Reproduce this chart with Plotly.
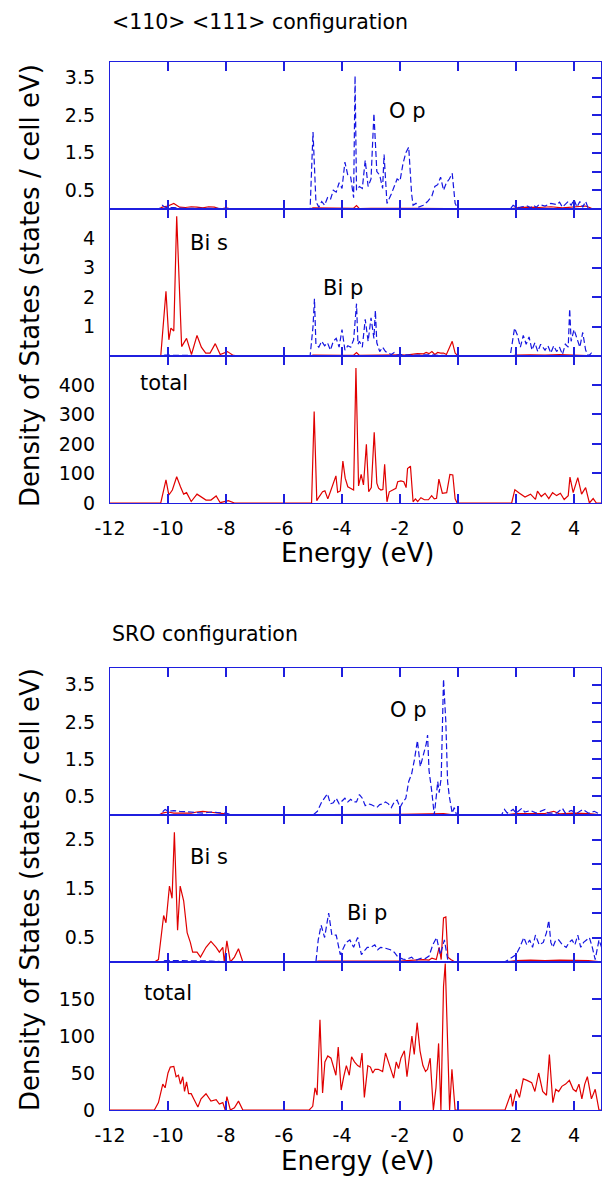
import plotly.graph_objects as go

# ---------------- data (energy eV, DOS) ----------------
# <110> <111> configuration
top_os = [(-12, 0), (-10.3, 0), (-10.2, 0.05), (-10.0, 0.08), (-9.8, 0.15), (-9.6, 0.05), (-9.4, 0.04), (-9.2, 0.06),
          (-9.0, 0.05), (-8.8, 0.03), (-8.6, 0.06), (-8.4, 0.05), (-8.2, 0.0), (-8.0, 0.03), (-7.8, 0), (-5.1, 0),
          (-5.0, 0.03), (-4.5, 0.02), (-4.0, 0.03), (-3.6, 0.02), (-3.5, 0.09), (-3.4, 0.01), (-3.0, 0.02), (-2.5, 0.03),
          (-2.0, 0.02), (-1.5, 0.02), (-1.0, 0.02), (-0.5, 0.02), (-0.1, 0), (1.8, 0), (2.0, 0.03), (2.4, 0.05),
          (2.8, 0.04), (3.2, 0.06), (3.6, 0.03), (4.0, 0.05), (4.4, 0.08), (4.6, 0.02), (4.95, 0)]
top_op = [(-12, 0), (-10.3, 0), (-10.2, 0.1), (-10.1, 0.05), (-10.0, 0.03), (-9.8, 0.04), (-9.5, 0.02), (-9.0, 0.02),
          (-8.5, 0.02), (-8.0, 0.01), (-7.8, 0), (-5.1, 0), (-5.0, 2.05), (-4.9, 0.2), (-4.8, 0.05), (-4.7, 0.2),
          (-4.6, 0.1), (-4.5, 0.3), (-4.4, 0.25), (-4.3, 0.5), (-4.2, 0.45), (-4.1, 0.7), (-4.0, 0.55), (-3.9, 1.25),
          (-3.8, 0.9), (-3.7, 0.85), (-3.6, 0.3), (-3.55, 3.55), (-3.5, 0.5), (-3.4, 0.6), (-3.3, 0.55), (-3.2, 1.3),
          (-3.1, 0.6), (-3.0, 0.8), (-2.9, 2.55), (-2.8, 1.0), (-2.7, 0.9), (-2.6, 0.55), (-2.55, 1.45), (-2.45, 0.15),
          (-2.3, 0.4), (-2.2, 0.6), (-2.1, 0.8), (-2.0, 0.75), (-1.9, 1.2), (-1.8, 1.5), (-1.7, 1.65), (-1.6, 0.4),
          (-1.55, 0.1), (-1.45, 0.15), (-1.35, 0.05), (-1.2, 0.1), (-1.05, 0.2), (-0.9, 0.35), (-0.8, 0.6),
          (-0.7, 0.65), (-0.6, 0.85), (-0.5, 0.5), (-0.4, 0.7), (-0.3, 0.8), (-0.2, 0.95), (-0.1, 0.15), (0.0, 0),
          (1.8, 0), (1.9, 0.1), (2.0, 0.05), (2.1, 0.04), (2.2, 0.06), (2.4, 0.08), (2.5, 0.03), (2.6, 0.1),
          (2.7, 0.05), (2.8, 0.12), (3.0, 0.08), (3.2, 0.15), (3.4, 0.12), (3.5, 0.18), (3.6, 0.05), (3.8, 0.2),
          (3.9, 0.1), (4.0, 0.25), (4.1, 0.05), (4.2, 0.2), (4.3, 0.05), (4.4, 0.2), (4.5, 0.0), (4.95, 0)]
top_bis = [(-12, 0), (-10.25, 0), (-10.07, 2.2), (-9.97, 0.55), (-9.9, 0.95), (-9.8, 0.85), (-9.7, 4.75),
           (-9.53, 0.32), (-9.36, 0.6), (-9.19, 0.05), (-9.0, 0.7), (-8.85, 0.3), (-8.7, 0.1), (-8.55, 0.1),
           (-8.37, 0.42), (-8.2, 0.05), (-7.95, 0.15), (-7.75, 0.02), (-7.5, 0), (-5.1, 0), (-5.0, 0.03),
           (-4.5, 0.02), (-4.0, 0.02), (-3.6, 0.03), (-3.5, 0.12), (-3.4, 0.02), (-3.0, 0.03), (-2.5, 0.02),
           (-2.0, 0.04), (-1.8, 0.03), (-1.6, 0.06), (-1.4, 0.08), (-1.2, 0.07), (-1.1, 0.12), (-1.0, 0.08),
           (-0.9, 0.15), (-0.8, 0.05), (-0.7, 0.12), (-0.6, 0.1), (-0.5, 0.1), (-0.4, 0.05), (-0.3, 0.3),
           (-0.2, 0.5), (-0.1, 0.1), (0.0, 0), (1.8, 0), (2.0, 0.03), (2.5, 0.04), (3.0, 0.03), (3.5, 0.05),
           (4.0, 0.04), (4.5, 0.02), (4.95, 0)]
top_bip = [(-12, 0), (-10.3, 0), (-10.1, 0.03), (-9.5, 0.02), (-8.5, 0.02), (-8.0, 0), (-5.1, 0), (-5.0, 1.0),
           (-4.95, 1.95), (-4.9, 0.4), (-4.8, 0.3), (-4.7, 0.5), (-4.6, 0.35), (-4.5, 0.45), (-4.4, 0.2),
           (-4.3, 0.5), (-4.2, 0.6), (-4.1, 0.3), (-4.0, 0.9), (-3.9, 0.2), (-3.8, 0.35), (-3.7, 0.3), (-3.6, 0.55),
           (-3.5, 1.78), (-3.45, 0.4), (-3.4, 0.5), (-3.3, 0.3), (-3.2, 1.25), (-3.1, 0.5), (-3.0, 1.3), (-2.9, 0.6),
           (-2.85, 1.55), (-2.8, 0.45), (-2.7, 0.15), (-2.6, 0.3), (-2.5, 0.15), (-2.4, 0.1), (-2.3, 0.05),
           (-2.2, 0.12), (-2.1, 0.03), (-2.0, 0.05), (-1.5, 0.03), (-1.0, 0.04), (-0.5, 0.03), (-0.1, 0), (1.8, 0),
           (1.9, 0.6), (1.95, 0.95), (2.05, 0.7), (2.15, 0.3), (2.25, 0.7), (2.35, 0.4), (2.45, 0.65), (2.55, 0.2),
           (2.65, 0.45), (2.75, 0.15), (2.85, 0.4), (3.0, 0.2), (3.1, 0.35), (3.2, 0.1), (3.3, 0.35), (3.4, 0.15),
           (3.5, 0.3), (3.6, 0.05), (3.7, 0.4), (3.8, 0.3), (3.85, 1.6), (3.9, 0.5), (4.0, 0.9), (4.1, 0.6),
           (4.2, 0.3), (4.3, 0.8), (4.4, 0.2), (4.5, 0.0), (4.6, 0.1), (4.7, 0.0), (4.95, 0)]
top_tot = [(-12, 0), (-10.25, 0), (-10.07, 78), (-9.97, 27), (-9.85, 44), (-9.7, 89), (-9.57, 55), (-9.46, 30),
           (-9.36, 35), (-9.2, 5), (-9.0, 30), (-8.84, 21), (-8.69, 10), (-8.52, 10), (-8.34, 24), (-8.2, 1),
           (-7.92, 8), (-7.71, 0), (-5.05, 0), (-4.96, 310), (-4.87, 8), (-4.79, 21), (-4.67, 38), (-4.59, 41),
           (-4.49, 14), (-4.38, 44), (-4.26, 78), (-4.21, 92), (-4.15, 36), (-4.06, 41), (-3.97, 142), (-3.89, 84),
           (-3.8, 55), (-3.69, 50), (-3.6, 44), (-3.52, 457), (-3.43, 58), (-3.34, 97), (-3.26, 61), (-3.16, 199),
           (-3.08, 38), (-2.99, 52), (-2.89, 240), (-2.8, 67), (-2.74, 50), (-2.66, 44), (-2.59, 46), (-2.53, 131),
           (-2.45, 4), (-2.37, 38), (-2.25, 44), (-2.14, 50), (-2.08, 72), (-1.97, 75), (-1.87, 72), (-1.79, 52),
           (-1.74, 117), (-1.64, 125), (-1.55, 4), (-1.47, 14), (-1.39, 5), (-1.28, 18), (-1.16, 11), (-1.02, 11),
           (-0.91, 25), (-0.82, 14), (-0.74, 16), (-0.66, 81), (-0.54, 33), (-0.39, 35), (-0.28, 97), (-0.18, 95),
           (-0.1, 14), (-0.03, 0), (1.85, 0), (1.96, 45), (2.12, 33), (2.31, 20), (2.5, 30), (2.67, 12), (2.74, 40),
           (2.87, 22), (3.0, 33), (3.13, 15), (3.26, 35), (3.4, 25), (3.53, 33), (3.66, 12), (3.8, 25), (3.86, 88),
           (3.97, 35), (4.13, 86), (4.26, 30), (4.4, 52), (4.53, 0), (4.66, 15), (4.77, 0), (4.95, 0)]

# SRO configuration
bot_os = [(-12, 0), (-10.3, 0), (-10.2, 0.05), (-10.0, 0.08), (-9.8, 0.05), (-9.5, 0.06), (-9.2, 0.05), (-9.0, 0.08),
          (-8.8, 0.1), (-8.6, 0.08), (-8.3, 0.06), (-8.0, 0.03), (-7.8, 0), (-5.0, 0), (-4.5, 0.02), (-4.0, 0.02),
          (-3.0, 0.02), (-2.0, 0.02), (-1.0, 0.03), (-0.5, 0.04), (-0.1, 0), (1.6, 0), (2.0, 0.04), (2.5, 0.05),
          (3.0, 0.04), (3.3, 0.1), (3.5, 0.03), (4.0, 0.05), (4.5, 0.04), (4.95, 0)]
bot_op = [(-12, 0), (-10.3, 0), (-10.1, 0.15), (-10.0, 0.1), (-9.8, 0.12), (-9.6, 0.1), (-9.2, 0.08), (-8.8, 0.05),
          (-8.5, 0.08), (-8.0, 0.05), (-7.8, 0), (-5.0, 0), (-4.85, 0.1), (-4.7, 0.35), (-4.5, 0.57), (-4.4, 0.3),
          (-4.3, 0.33), (-4.2, 0.45), (-4.1, 0.3), (-4.0, 0.38), (-3.9, 0.45), (-3.8, 0.35), (-3.7, 0.42),
          (-3.6, 0.35), (-3.5, 0.35), (-3.4, 0.55), (-3.3, 0.45), (-3.2, 0.25), (-3.1, 0.3), (-3.0, 0.28),
          (-2.9, 0.25), (-2.8, 0.2), (-2.7, 0.28), (-2.6, 0.3), (-2.5, 0.35), (-2.4, 0.3), (-2.3, 0.2), (-2.2, 0.35),
          (-2.1, 0.4), (-2.0, 0.2), (-1.9, 0.35), (-1.8, 0.45), (-1.7, 0.9), (-1.6, 1.1), (-1.5, 1.5), (-1.4, 2.0),
          (-1.3, 1.3), (-1.2, 1.6), (-1.1, 1.9), (-1.05, 2.15), (-1.0, 1.2), (-0.9, 0.6), (-0.82, 0.0), (-0.75, 0.5),
          (-0.7, 0.9), (-0.65, 0.6), (-0.58, 1.0), (-0.5, 3.65), (-0.42, 2.5), (-0.36, 0.9), (-0.3, 0.5),
          (-0.2, 0.05), (-0.13, 0.2), (-0.05, 0), (1.5, 0), (1.6, 0.15), (1.7, 0.05), (1.9, 0.15), (2.0, 0.05),
          (2.2, 0.18), (2.3, 0.08), (2.5, 0.12), (2.7, 0.05), (3.0, 0.15), (3.1, 0.05), (3.4, 0.05), (3.6, 0.18),
          (3.7, 0.05), (3.9, 0.12), (4.1, 0.05), (4.3, 0.15), (4.5, 0.05), (4.7, 0.1), (4.9, 0.02), (4.95, 0)]
bot_bis = [(-12, 0), (-10.47, 0), (-10.33, 0.05), (-10.15, 0.95), (-10.07, 0.8), (-9.95, 1.55), (-9.86, 1.3),
           (-9.78, 2.65), (-9.67, 0.65), (-9.58, 1.55), (-9.46, 1.25), (-9.34, 0.6), (-9.23, 0.4), (-9.15, 0.2),
           (-9.0, 0.2), (-8.88, 0.1), (-8.69, 0.3), (-8.52, 0.42), (-8.34, 0.3), (-8.23, 0.2), (-8.11, 0.3),
           (-8.06, 0.0), (-7.97, 0.43), (-7.85, 0.0), (-7.71, 0.1), (-7.57, 0.27), (-7.42, 0.0), (-5.0, 0),
           (-4.8, 0.02), (-4.0, 0.02), (-3.5, 0.03), (-3.0, 0.02), (-2.5, 0.03), (-2.0, 0.02), (-1.5, 0.04),
           (-1.2, 0.05), (-1.0, 0.04), (-0.9, 0.08), (-0.75, 0.05), (-0.65, 0.3), (-0.58, 0.05), (-0.5, 0.9),
           (-0.42, 0.92), (-0.35, 0.1), (-0.25, 0.05), (-0.1, 0), (1.6, 0), (2.0, 0.03), (2.5, 0.04), (3.0, 0.03),
           (3.5, 0.04), (4.0, 0.03), (4.5, 0.03), (4.95, 0)]
bot_bip = [(-12, 0), (-10.3, 0), (-10.1, 0.03), (-9.5, 0.03), (-8.5, 0.02), (-8.0, 0), (-4.9, 0), (-4.82, 0.45),
           (-4.72, 0.75), (-4.6, 0.5), (-4.46, 1.0), (-4.35, 0.55), (-4.2, 0.55), (-4.06, 0.15), (-3.95, 0.3),
           (-3.86, 0.4), (-3.73, 0.45), (-3.6, 0.3), (-3.46, 0.5), (-3.33, 0.15), (-3.2, 0.25), (-3.13, 0.3),
           (-3.0, 0.3), (-2.87, 0.35), (-2.77, 0.25), (-2.67, 0.3), (-2.5, 0.28), (-2.33, 0.25), (-2.2, 0.2),
           (-2.07, 0.1), (-1.9, 0.06), (-1.8, 0.05), (-1.6, 0.1), (-1.5, 0.04), (-1.4, 0.05), (-1.25, 0.08),
           (-1.13, 0.07), (-1.0, 0.12), (-0.87, 0.35), (-0.74, 0.5), (-0.61, 0.15), (-0.47, 0.45), (-0.34, 0.0),
           (1.6, 0), (1.75, 0.05), (1.87, 0.1), (2.0, 0.15), (2.13, 0.3), (2.27, 0.5), (2.37, 0.35), (2.47, 0.45),
           (2.57, 0.3), (2.67, 0.55), (2.8, 0.35), (2.94, 0.4), (3.05, 0.6), (3.13, 0.85), (3.2, 0.4), (3.27, 0.3),
           (3.37, 0.45), (3.47, 0.45), (3.6, 0.35), (3.73, 0.3), (3.83, 0.4), (3.93, 0.45), (4.03, 0.35),
           (4.13, 0.55), (4.23, 0.3), (4.33, 0.4), (4.43, 0.45), (4.53, 0.5), (4.63, 0.3), (4.73, 0.05),
           (4.86, 0.45), (4.95, 0.3)]
bot_tot = [(-12, 0), (-10.47, 0), (-10.33, 10), (-10.18, 35), (-10.1, 30), (-10.0, 50), (-9.92, 58), (-9.8, 59),
           (-9.72, 45), (-9.64, 47), (-9.57, 35), (-9.49, 45), (-9.43, 25), (-9.36, 38), (-9.29, 22), (-9.2, 22),
           (-9.11, 15), (-8.97, 4), (-8.86, 15), (-8.69, 22), (-8.52, 12), (-8.34, 14), (-8.23, 8), (-8.11, 10),
           (-8.03, 0), (-7.97, 18), (-7.85, 0), (-7.71, 3), (-7.57, 12), (-7.42, 0), (-5.13, 0), (-5.01, 5),
           (-4.93, 30), (-4.86, 20), (-4.76, 122), (-4.67, 23), (-4.59, 65), (-4.49, 73), (-4.38, 70), (-4.3, 58),
           (-4.21, 47), (-4.13, 85), (-4.03, 27), (-3.94, 45), (-3.85, 60), (-3.75, 47), (-3.67, 72), (-3.57, 65),
           (-3.46, 60), (-3.38, 58), (-3.31, 77), (-3.23, 17), (-3.11, 60), (-3.02, 58), (-2.94, 50), (-2.86, 55),
           (-2.75, 55), (-2.6, 52), (-2.5, 77), (-2.4, 65), (-2.31, 55), (-2.22, 43), (-2.13, 65), (-2.05, 56),
           (-1.97, 70), (-1.85, 80), (-1.76, 45), (-1.68, 75), (-1.59, 100), (-1.51, 75), (-1.41, 118), (-1.31, 80),
           (-1.21, 60), (-1.12, 52), (-1.05, 55), (-0.96, 70), (-0.85, 0), (-0.76, 30), (-0.67, 90), (-0.59, 0),
           (-0.5, 167), (-0.44, 198), (-0.36, 90), (-0.29, 0), (-0.21, 55), (-0.1, 0), (1.62, 0), (1.82, 22),
           (1.88, 5), (2.01, 28), (2.12, 17), (2.25, 42), (2.38, 40), (2.54, 37), (2.65, 25), (2.78, 50), (2.92, 25),
           (3.05, 20), (3.15, 75), (3.27, 10), (3.37, 28), (3.47, 25), (3.58, 32), (3.71, 35), (3.84, 40),
           (3.97, 28), (4.07, 25), (4.17, 35), (4.27, 15), (4.37, 35), (4.46, 45), (4.6, 15), (4.73, 28), (4.86, 0),
           (4.95, 0)]

x_ticks = [-12, -10, -8, -6, -4, -2, 0, 2, 4]
x_tick_labels = ["-12", "-10", "-8", "-6", "-4", "-2", "0", "2", "4"]
group_titles = ["<110> <111> configuration", "SRO configuration"]
x_title = "Energy (eV)"
y_title = "Density of States (states / cell eV)"

# ---------------- styling / layout ----------------
W, H = 602, 1178
PX_L, PX_R = 110, 601
X_RANGE = [-12, 4.93]
FONT = "DejaVu Sans"
RED = "#e00000"
BLUE = "#1515e0"
AX = "#1f1fdf"

# panel: (top px, bottom px, y range, labelled ticks, right-side ticks, [(series, color, dashed)], labels)
panels = [
    (62, 209, [0, 3.92], [0.5, 1.5, 2.5, 3.5], [0.5, 1, 1.5, 2, 2.5, 3, 3.5],
     [(top_os, RED, False), (top_op, BLUE, True)], [("O p", -2.45, 2.62)]),
    (209, 356, [0, 5], [1, 2, 3, 4], [1, 2, 3, 4],
     [(top_bis, RED, False), (top_bip, BLUE, True)], [("Bi s", -9.3, 3.86), ("Bi p", -4.72, 2.32)]),
    (356, 503, [0, 498], [0, 100, 200, 300, 400], [100, 200, 300, 400],
     [(top_tot, RED, False)], [("total", -11.05, 407)]),
    (668, 815, [0, 3.95], [0.5, 1.5, 2.5, 3.5], [0.5, 1, 1.5, 2, 2.5, 3, 3.5],
     [(bot_os, RED, False), (bot_op, BLUE, True)], [("O p", -2.4, 2.83)]),
    (815, 962, [0, 3], [0.5, 1.5, 2.5], [0.5, 1, 1.5, 2, 2.5],
     [(bot_bis, RED, False), (bot_bip, BLUE, True)], [("Bi s", -9.3, 2.15), ("Bi p", -3.9, 0.99)]),
    (962, 1110, [0, 200], [0, 50, 100, 150], [50, 100, 150],
     [(bot_tot, RED, False)], [("total", -10.9, 158)]),
]

fig = go.Figure()
layout = dict(width=W, height=H, margin=dict(l=0, r=0, t=0, b=0, autoexpand=False), showlegend=False,
              template="none",
              plot_bgcolor="white", paper_bgcolor="white", font=dict(family=FONT, color="black"))
annotations = []

for i, (pt, pb, yr, ylab, yright, series, labels) in enumerate(panels, start=1):
    xa, ya, yr_ax = f"x{i}", f"y{i}", f"y{i + 6}"
    for data, color, dashed in series:
        xs = [p[0] for p in data]
        ys = [p[1] for p in data]
        fig.add_trace(go.Scatter(x=xs, y=ys, mode="lines", xaxis=xa, yaxis=ya, hoverinfo="skip",
                                 line=dict(color=color, width=1.2, dash="6px,3px" if dashed else "solid")))
    fig.add_trace(go.Scatter(x=[], y=[], xaxis=xa, yaxis=yr_ax, hoverinfo="skip"))
    dom = [1 - pb / H, 1 - pt / H]
    bottom_panel = i in (3, 6)
    layout[f"xaxis{i}"] = dict(domain=[PX_L / W, PX_R / W], range=X_RANGE, anchor=ya, automargin=False,
                               tickvals=x_ticks, ticktext=x_tick_labels,
                               ticks="inside", ticklen=9, tickwidth=1.5, tickcolor=AX,
                               showline=True, linecolor=AX, linewidth=1.3, mirror="ticks",
                               showgrid=False, zeroline=False, showticklabels=bottom_panel,
                               tickfont=dict(family=FONT, size=19, color="black"), ticklabelstandoff=8)
    layout[f"yaxis{i}"] = dict(domain=dom, range=yr, anchor=xa, tickvals=ylab, ticks="", automargin=False,
                               ticktext=[f"{v:g}" for v in ylab],
                               showline=True, linecolor=AX, linewidth=1.3, mirror=True,
                               showgrid=False, zeroline=False,
                               tickfont=dict(family=FONT, size=19, color="black"), ticklabelstandoff=10)
    layout[f"yaxis{i + 6}"] = dict(domain=dom, range=yr, anchor=xa, overlaying=ya, side="right", automargin=False,
                                   tickvals=yright, ticks="inside", ticklen=9, tickwidth=1.5, tickcolor=AX,
                                   showticklabels=False, showline=False, showgrid=False, zeroline=False)
    for txt, lx, ly in labels:
        annotations.append(dict(text=txt, x=lx, y=ly, xref=xa, yref=ya, xanchor="left", yanchor="middle",
                                showarrow=False, font=dict(family=FONT, size=21, color="black")))

# group titles, axis titles
for title, ty, ex_y, yt_c in [(group_titles[0], 22, 553, 286), (group_titles[1], 634, 1161, 890)]:
    annotations.append(dict(text=title, x=PX_L / W, y=1 - ty / H, xref="paper", yref="paper",
                            xanchor="left", yanchor="middle", showarrow=False,
                            font=dict(family=FONT, size=20.5, color="black")))
    annotations.append(dict(text=x_title, x=357 / W, y=1 - ex_y / H, xref="paper", yref="paper",
                            xanchor="center", yanchor="middle", showarrow=False,
                            font=dict(family=FONT, size=26, color="black")))
    annotations.append(dict(text=y_title, x=30 / W, y=1 - yt_c / H, xref="paper", yref="paper",
                            xanchor="center", yanchor="middle", textangle=-90, showarrow=False,
                            font=dict(family=FONT, size=26, color="black")))

layout["annotations"] = annotations
fig.update_layout(**layout)
fig.write_html("out.html", config={"displayModeBar": False},
               post_script="document.body.style.margin='0px';document.body.style.overflow='hidden';")
